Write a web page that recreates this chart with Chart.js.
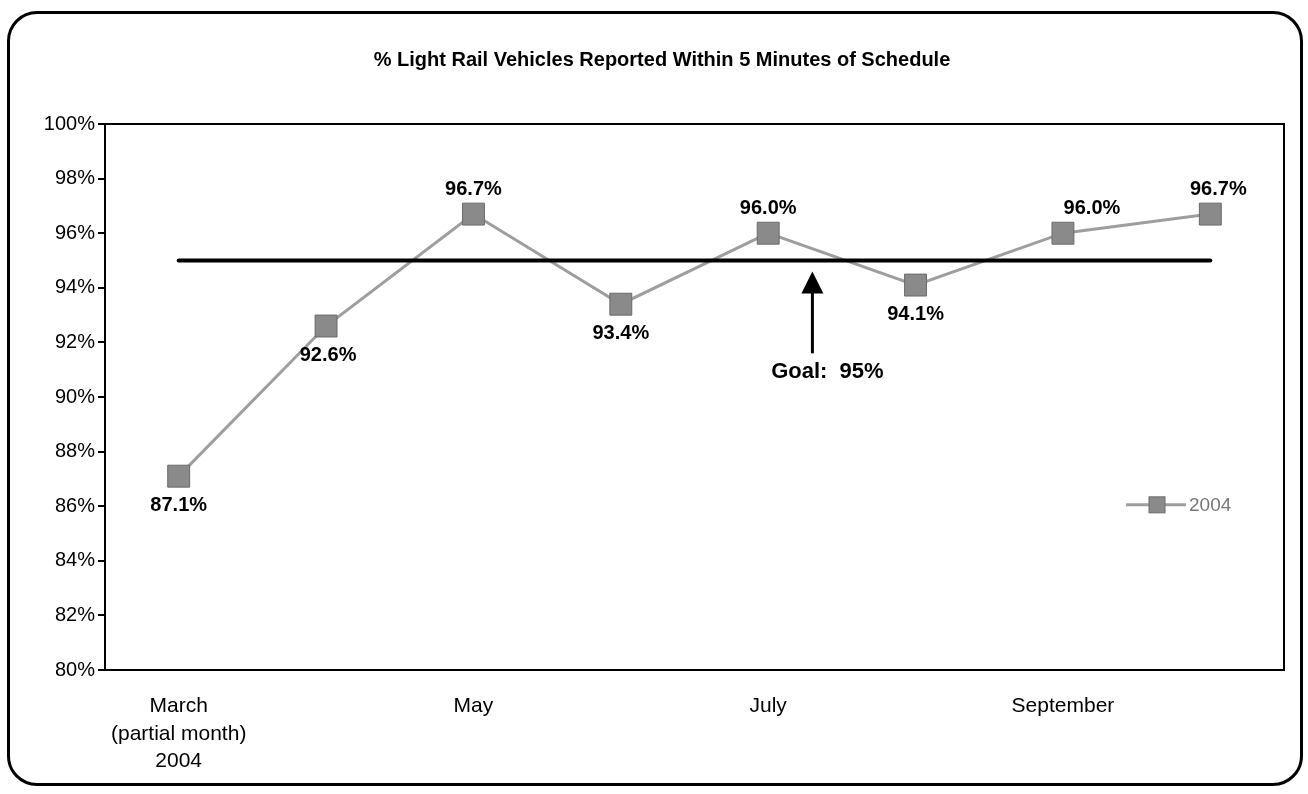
<!DOCTYPE html>
<html>
<head>
<meta charset="utf-8">
<script src="https://cdn.jsdelivr.net/npm/chart.js@4.4.1/dist/chart.umd.min.js"></script>
<style>
    html, body { margin: 0; padding: 0; background: #fff; }
    #frame { position: absolute; left: 7px; top: 11px; width: 1290px; height: 769px; border: 3px solid #000; border-radius: 30px; }
    #wrap { position: absolute; left: 0; top: 0; width: 1308px; height: 794px; }
</style>
</head>
<body>
<div id="frame"></div>
<div id="wrap"><canvas id="chart" width="1308" height="794"></canvas></div>
<script>
// month labels (blank months are not labelled on the axis)
const months = [['March', '(partial month)', '2004'], '', 'May', '', 'July', '', 'September', ''];
const onTime2004 = [87.1, 92.6, 96.7, 93.4, 96.0, 94.1, 96.0, 96.7];
const goalLine = [95, 95, 95, 95, 95, 95, 95, 95];
const yMin = 80;
const yMax = 100;
const yStep = 2;

const FONT = "'Liberation Sans', Arial, sans-serif";

// top + right border of the plot area
const plotBorder = {
    id: 'plotBorder',
    afterDraw(chart) {
        const a = chart.chartArea;
        const ctx = chart.ctx;
        ctx.save();
        ctx.strokeStyle = '#000';
        ctx.lineWidth = 2;
        ctx.beginPath();
        ctx.moveTo(a.left, a.top);
        ctx.lineTo(a.right, a.top);
        ctx.lineTo(a.right, a.bottom);
        ctx.stroke();
        ctx.restore();
    }
};

// value labels next to each point
const pointLabels = {
    id: 'pointLabels',
    afterDatasetsDraw(chart, args, opts) {
        const ctx = chart.ctx;
        const meta = chart.getDatasetMeta(0);
        const values = chart.data.datasets[0].data;
        ctx.save();
        ctx.font = 'bold 20px ' + FONT;
        ctx.fillStyle = '#000';
        ctx.textAlign = 'center';
        ctx.textBaseline = 'middle';
        meta.data.forEach((pt, i) => {
            const below = opts.side[i] === 'below';
            const dy = below ? 29 : -25;
            ctx.fillText(values[i].toFixed(1) + '%', pt.x + (opts.shift[i] || 0), pt.y + dy);
        });
        ctx.restore();
    }
};

// arrow pointing at the goal line
const goalArrow = {
    id: 'goalArrow',
    afterDatasetsDraw(chart, args, opts) {
        const ctx = chart.ctx;
        const x = chart.scales.x.getPixelForValue(opts.at);
        const tip = chart.scales.y.getPixelForValue(opts.to);
        const base = chart.scales.y.getPixelForValue(opts.from);
        const textY = chart.scales.y.getPixelForValue(opts.textAt);
        ctx.save();
        ctx.fillStyle = '#000';
        ctx.strokeStyle = '#000';
        ctx.lineWidth = 3;
        ctx.beginPath();
        ctx.moveTo(x, tip + 18);
        ctx.lineTo(x, base);
        ctx.stroke();
        ctx.beginPath();
        ctx.moveTo(x, tip);
        ctx.lineTo(x - 11, tip + 22);
        ctx.lineTo(x + 11, tip + 22);
        ctx.closePath();
        ctx.fill();
        ctx.font = 'bold 22px ' + FONT;
        ctx.textAlign = 'center';
        ctx.textBaseline = 'middle';
        ctx.fillText(opts.text, x + 15, textY);
        ctx.restore();
    }
};

// small legend inside the plot, right side
const sideLegend = {
    id: 'sideLegend',
    afterDraw(chart, args, opts) {
        const ctx = chart.ctx;
        const ds = chart.data.datasets[0];
        const y = chart.scales.y.getPixelForValue(opts.at);
        const x0 = chart.chartArea.right - 158;
        ctx.save();
        ctx.strokeStyle = ds.borderColor;
        ctx.lineWidth = 3;
        ctx.beginPath();
        ctx.moveTo(x0, y);
        ctx.lineTo(x0 + 60, y);
        ctx.stroke();
        ctx.fillStyle = ds.pointBackgroundColor;
        ctx.strokeStyle = ds.pointBorderColor;
        ctx.lineWidth = 1;
        ctx.fillRect(x0 + 23, y - 8, 16, 16);
        ctx.strokeRect(x0 + 23, y - 8, 16, 16);
        ctx.font = '19px ' + FONT;
        ctx.fillStyle = '#777';
        ctx.textAlign = 'left';
        ctx.textBaseline = 'middle';
        ctx.fillText(ds.label, x0 + 63, y + 1);
        ctx.restore();
    }
};

new Chart(document.getElementById('chart'), {
    type: 'line',
    data: {
        labels: months,
        datasets: [{
            label: '2004',
            data: onTime2004,
            borderColor: '#9e9e9e',
            borderWidth: 3,
            pointStyle: 'rect',
            pointRadius: 15.5,
            pointHoverRadius: 15.5,
            pointBackgroundColor: '#8a8a8a',
            pointBorderColor: '#6a6a6a',
            pointBorderWidth: 1,
            tension: 0,
            order: 1
        }, {
            label: 'Goal',
            data: goalLine,
            borderColor: '#000',
            borderWidth: 4,
            borderCapStyle: 'round',
            pointRadius: 0,
            tension: 0,
            order: 0
        }]
    },
    options: {
        responsive: false,
        animation: false,
        devicePixelRatio: 1,
        layout: { padding: { left: 40, right: 24, top: 0, bottom: 0 } },
        plugins: {
            legend: { display: false },
            tooltip: { enabled: false },
            title: {
                display: true,
                text: '% Light Rail Vehicles Reported Within 5 Minutes of Schedule',
                color: '#000',
                font: { family: FONT, size: 20, weight: 'bold' },
                padding: { top: 48, bottom: 52 }
            },
            pointLabels: {
                side: ['below', 'below', 'above', 'below', 'above', 'below', 'above', 'above'],
                shift: [0, 2, 0, 0, 0, 0, 29, 8]
            },
            goalArrow: { at: 4.3, from: 91.6, to: 94.6, textAt: 90.9, text: 'Goal:  95%' },
            sideLegend: { at: 86.05 }
        },
        scales: {
            x: {
                offset: true,
                grid: { display: false, drawTicks: false },
                border: { display: true, color: '#000', width: 2 },
                ticks: {
                    autoSkip: false,
                    maxRotation: 0,
                    minRotation: 0,
                    color: '#000',
                    padding: 23,
                    font: { family: FONT, size: 21, lineHeight: 1.3 }
                },
                afterFit(scale) { scale.height = 124; }
            },
            y: {
                min: yMin,
                max: yMax,
                grid: { drawOnChartArea: false, drawTicks: true, tickLength: 7, color: '#000', lineWidth: 2 },
                border: { display: true, color: '#000', width: 2 },
                ticks: {
                    stepSize: yStep,
                    color: '#000',
                    padding: 3,
                    font: { family: FONT, size: 20 },
                    callback: v => v + '%'
                },
                afterFit(scale) { scale.width = 65; }
            }
        }
    },
    plugins: [plotBorder, pointLabels, goalArrow, sideLegend]
});
</script>
</body>
</html>
